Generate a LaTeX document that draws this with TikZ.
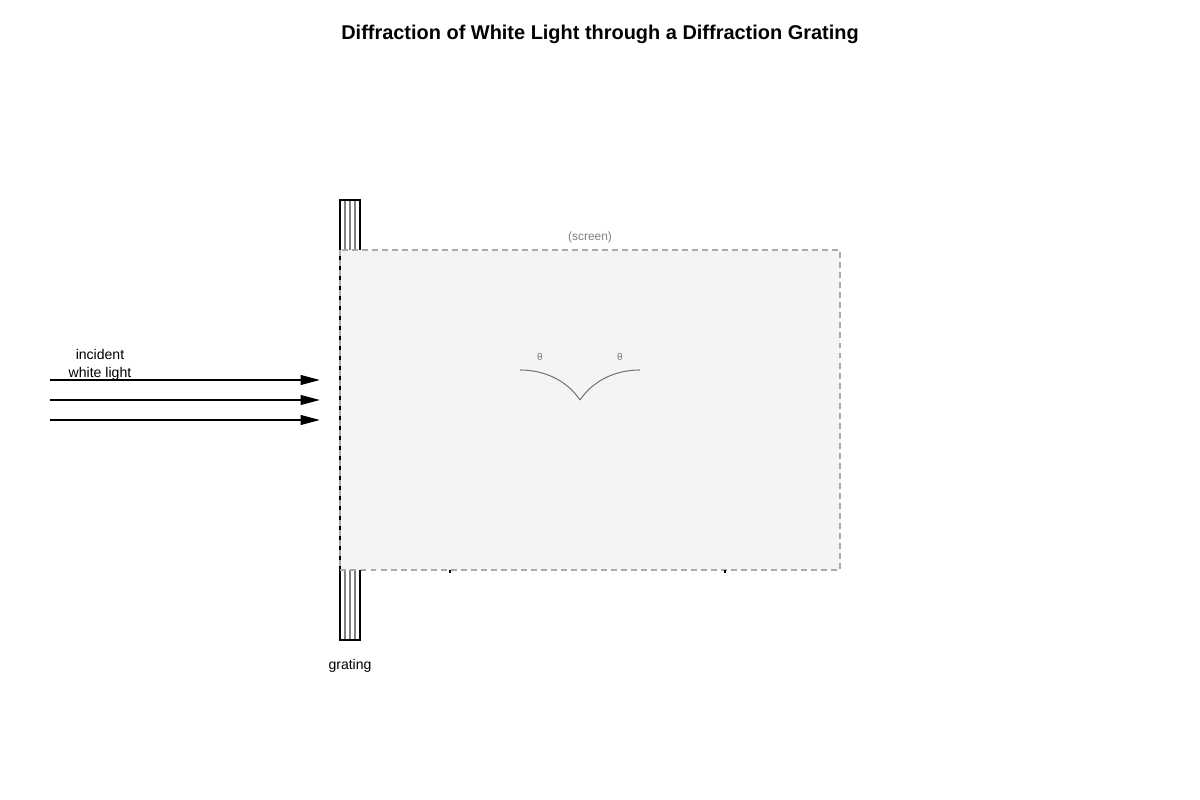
\documentclass[tikz,border=0pt]{standalone}
\usepackage{fontspec}
\setmainfont{Liberation Sans}
\usetikzlibrary{arrows.meta}
\definecolor{screenfill}{HTML}{F4F4F4}
\definecolor{screenline}{HTML}{AAAAAA}
\definecolor{arcgray}{HTML}{777777}
\tikzset{
	lightray/.style={line width=1.1pt,-{Triangle[length=11pt,width=5.5pt]}},
	slitline/.style={gray,line width=0.8pt},
	smalltext/.style={font=\fontsize{8}{10}\selectfont,align=center},
	thetatext/.style={font=\fontsize{5.7}{7}\selectfont,text=arcgray}
}

\begin{document}
\begin{tikzpicture}[x=0.02cm,y=-0.02cm]
				\useasboundingbox[fill=white] (0,0) rectangle (1200,800);
				\node[font=\fontsize{11.35}{13}\selectfont\bfseries] (title) at (600,34) {Diffraction of White Light through a Diffraction Grating};

				% grating
				\draw[line width=1.1pt] (340,200) rectangle (360,640);
				\foreach \i in {345,350,355}{
					\draw[slitline] (\i,201)--(\i,639);
				}
				\node[smalltext] (grating) at (350,666) {grating};

				% screen
				\fill[screenfill] (340,250) rectangle (840,570);
				\draw[line width=0.9pt] (340,250)--(340,570);
				\draw[screenline,line width=0.8pt,dash pattern=on 3.4pt off 2.3pt] (340,250) rectangle (840,570);
				\node[font=\fontsize{6.8}{8}\selectfont,text=gray] (screen) at (590,237) {(screen)};
				\draw[line width=0.6pt] (450,570)--(450,573);
				\draw[line width=0.6pt] (725,570)--(725,573);

				% angles
				\coordinate (apex) at (580,400);
				\draw[arcgray,line width=0.6pt] (520,370) .. controls (550,370) and (570,385) .. (apex);
				\draw[arcgray,line width=0.6pt] (apex) .. controls (590,385) and (610,370) .. (640,370);
				\node[thetatext] (thetaL) at (540,357) {θ};
				\node[thetatext] (thetaR) at (620,357) {θ};

				% incident light
				\foreach \y/\n in {380/a,400/b,420/c}{
					\coordinate (in\n) at (50,\y);
					\coordinate (out\n) at (320,\y);
					\draw[lightray] (in\n)--(out\n);
				}
				\node[smalltext] (incident) at (100,365) {incident\\white light};
			\end{tikzpicture}
\end{document}
